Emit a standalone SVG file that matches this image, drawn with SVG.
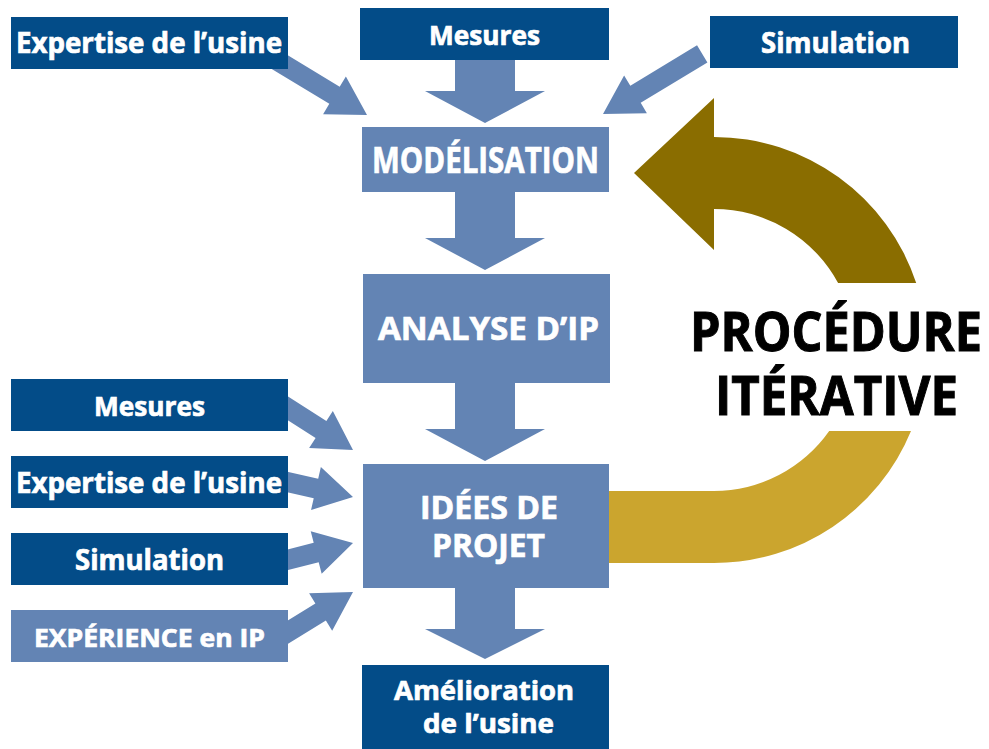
<svg xmlns="http://www.w3.org/2000/svg" xmlns:xlink="http://www.w3.org/1999/xlink" width="989" height="749" viewBox="0 0 989 749">
<style>
.dk{fill:#034c88}
.lt{fill:#6384b4}
.t{font-family:"Open Sans","Noto Sans","Liberation Sans",sans-serif;font-weight:700;fill:#fff;stroke:#fff;stroke-width:0.7px}
.big{font-family:"Open Sans","Noto Sans","Liberation Sans",sans-serif;font-weight:700;fill:#000;stroke:#000;stroke-width:1px;font-size:54px}
.conn{fill:#6384b4}
</style>
<defs>
<path id="arrL" d="M0,0 L-38,-22 L-38,-10 L-116,-10 L-116,10 L-38,10 L-38,22 Z"/>
<path id="arrS" d="M0,0 L-38,-22 L-38,-10 L-90,-10 L-90,10 L-38,10 L-38,22 Z"/>
</defs>
<rect width="989" height="749" fill="#fff"/>
<g id="connectors" class="conn">
<use xlink:href="#arrL" transform="translate(367,115) rotate(31.2)"/>
<use xlink:href="#arrL" transform="translate(603,114) rotate(148.8)"/>
<use xlink:href="#arrS" transform="translate(353,450) rotate(32.6)"/>
<use xlink:href="#arrS" transform="translate(353,497) rotate(12.9)"/>
<use xlink:href="#arrS" transform="translate(353,543) rotate(-14.4)"/>
<use xlink:href="#arrS" transform="translate(353,592) rotate(-31.6)"/>
<polygon points="455,60 515,60 515,91 545,91 485,123 425,91 455,91"/>
<polygon points="455,192 515,192 515,238 545,238 485,270 425,238 455,238"/>
<polygon points="455,383 515,383 515,429 545,429 485,461 425,429 455,429"/>
<polygon points="455,588 515,588 515,629 545,629 485,659 425,629 455,629"/>
<path id="loop-dark" fill="#8a6d00" d="M714,137 A213,213 0 0 1 916.2,283 L838.1,283 A141,141 0 0 0 714,209 L714,250 L634,173 L714,98 Z"/>
<path id="loop-gold" fill="#cba52e" d="M609,491 L714,491 A141,141 0 0 0 829.2,431 L911,431 A213,213 0 0 1 714,563 L609,563 Z"/>
</g>
<g id="n-expertise-top"><rect class="dk" x="11" y="17" width="277" height="52"/><text class="t" x="16" y="53" font-size="28" textLength="266" lengthAdjust="spacingAndGlyphs">Expertise de l’usine</text></g>
<g id="n-mesures-top"><rect class="dk" x="360" y="8" width="249" height="52"/><text class="t" x="429" y="45" font-size="27" textLength="111" lengthAdjust="spacingAndGlyphs">Mesures</text></g>
<g id="n-simulation-top"><rect class="dk" x="710" y="16" width="248" height="52"/><text class="t" x="761" y="53" font-size="28" textLength="149" lengthAdjust="spacingAndGlyphs">Simulation</text></g>
<g id="n-modelisation"><rect class="lt" x="362" y="127" width="247" height="65"/><text class="t" x="372" y="173" font-size="36" textLength="227" lengthAdjust="spacingAndGlyphs">MODÉLISATION</text></g>
<g id="n-analyse"><rect class="lt" x="363" y="274" width="247" height="109"/><text class="t" x="378" y="340" font-size="33" textLength="221" lengthAdjust="spacingAndGlyphs">ANALYSE D’IP</text></g>
<g id="n-idees"><rect class="lt" x="363" y="464" width="246" height="124"/><text class="t" x="420" y="519" font-size="33" textLength="138" lengthAdjust="spacingAndGlyphs">IDÉES DE</text><text class="t" x="432" y="557" font-size="33" textLength="113" lengthAdjust="spacingAndGlyphs">PROJET</text></g>
<g id="n-amelioration"><rect class="dk" x="362" y="665" width="247" height="84"/><text class="t" x="394" y="700" font-size="27" textLength="180" lengthAdjust="spacingAndGlyphs">Amélioration</text><text class="t" x="423" y="733" font-size="27" textLength="131" lengthAdjust="spacingAndGlyphs">de l’usine</text></g>
<g id="n-mesures-left"><rect class="dk" x="11" y="379" width="277" height="52"/><text class="t" x="94" y="416" font-size="27" textLength="111" lengthAdjust="spacingAndGlyphs">Mesures</text></g>
<g id="n-expertise-left"><rect class="dk" x="11" y="456" width="277" height="52"/><text class="t" x="16" y="493" font-size="28" textLength="266" lengthAdjust="spacingAndGlyphs">Expertise de l’usine</text></g>
<g id="n-simulation-left"><rect class="dk" x="11" y="533" width="277" height="52"/><text class="t" x="75" y="570" font-size="28" textLength="149" lengthAdjust="spacingAndGlyphs">Simulation</text></g>
<g id="n-experience"><rect class="lt" x="11" y="610" width="277" height="52"/><text class="t" x="34" y="647" font-size="25" textLength="231" lengthAdjust="spacingAndGlyphs">EXPÉRIENCE en IP</text></g>
<g id="n-procedure"><text class="big" x="690" y="351" textLength="292" lengthAdjust="spacingAndGlyphs">PROCÉDURE</text><text class="big" x="715" y="415" textLength="243" lengthAdjust="spacingAndGlyphs">ITÉRATIVE</text></g>
</svg>
